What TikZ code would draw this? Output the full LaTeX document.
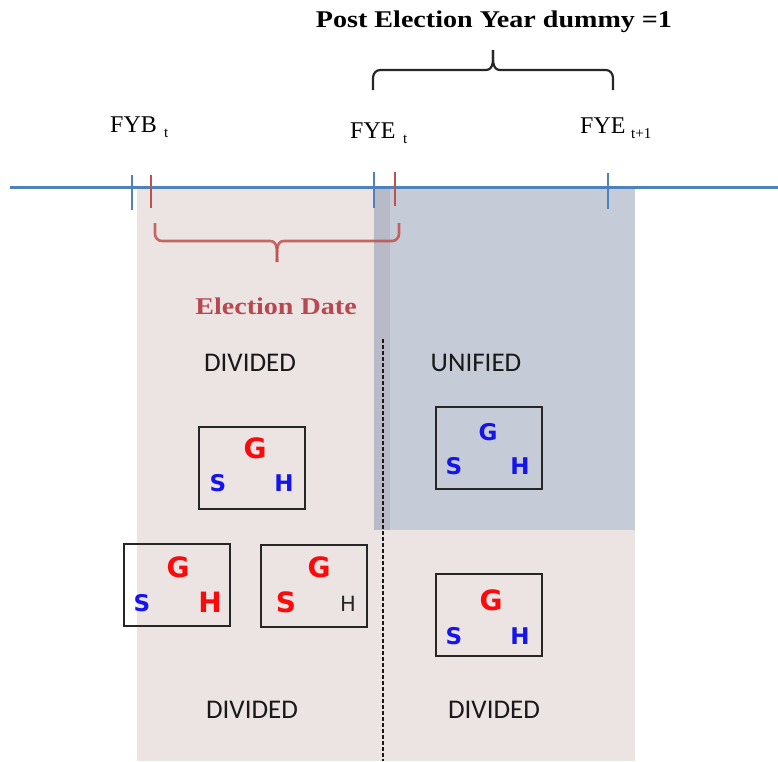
\documentclass[tikz,border=0pt]{standalone}
\usepackage{fontspec}
\setmainfont{Liberation Serif}
\newfontfamily\headfont[FakeStretch=1.17]{Liberation Serif}
\newfontfamily\labfont{Carlito}
\newfontfamily\letfont{DejaVu Sans}
\definecolor{tlblue}{RGB}{79,129,189}
\definecolor{tlred}{RGB}{192,80,77}
\definecolor{edred}{RGB}{184,72,80}
\definecolor{pinkbg}{RGB}{236,228,227}
\definecolor{bluebg}{RGB}{197,204,215}
\definecolor{stripbg}{RGB}{184,187,199}
\definecolor{lblue}{RGB}{20,20,235}
\definecolor{lred}{RGB}{250,10,10}
\tikzset{
  timelabel/.style={inner sep=0pt, anchor=base west, font=\fontsize{24}{24}\selectfont},
  sublabel/.style={inner sep=0pt, anchor=base west, font=\fontsize{15}{15}\selectfont},
  regionlabel/.style={inner sep=0pt, anchor=base, font=\labfont\fontsize{27}{27}\selectfont, text=black!90},
  govbox/.style={draw=black!85, line width=2pt, minimum width=106pt, minimum height=82pt, inner sep=0pt},
  branch/.style={inner sep=0pt, anchor=center, font=\letfont\bfseries\fontsize{23}{23}\selectfont, text=lblue},
  branchbig/.style={inner sep=0pt, anchor=center, font=\letfont\bfseries\fontsize{28}{28}\selectfont, text=lred},
  branchplain/.style={inner sep=0pt, anchor=center, font=\letfont\fontsize{21}{21}\selectfont, text=black!85},
  bluetick/.style={draw=tlblue, line width=2.2pt},
  redtick/.style={draw=tlred, line width=2.6pt},
  bracket/.style={line width=2.2pt},
}
\begin{document}
\begin{tikzpicture}[x=1pt,y=-1pt]
\useasboundingbox (0,0) rectangle (778,761);

% shaded periods
\fill[pinkbg] (137,188) rectangle (390,761);
\fill[pinkbg] (374,530) rectangle (635,761);
\fill[bluebg] (374,188) rectangle (635,530);
\fill[stripbg] (374,188) rectangle (390,530);

% time line and ticks
\coordinate (tlstart) at (10,187);
\coordinate (tlend) at (778,187);
\draw[tlblue, line width=3pt] (tlstart) -- (tlend);
\draw[bluetick] (132,175) -- (132,210);
\draw[redtick] (151,175) -- (151,208);
\draw[bluetick] (374,172) -- (374,208);
\draw[redtick] (395,172) -- (395,206);
\draw[bluetick] (608,173) -- (608,209);

% time labels
\node[timelabel] (fyb) at (110,132) {FYB};
\node[sublabel] (fybsub) at (164,137) {t};
\node[timelabel] (fye) at (350,138) {FYE};
\node[sublabel] (fyesub) at (403,143) {t};
\node[timelabel] (fyenext) at (580,133) {FYE};
\node[sublabel] (fyenextsub) at (631,138) {t+1};

% post election year bracket
\node[inner sep=0pt, anchor=base, font=\headfont\bfseries\fontsize{24}{24}\selectfont] (post) at (494,27) {Post Election Year dummy =1};
\coordinate (pbl) at (373,90);
\coordinate (pbr) at (613,90);
\coordinate (pbm) at (493,50);
\draw[bracket, black!85] (pbl) -- (373,78) to[out=90,in=180] (380,70) -- (486,70)
  to[out=0,in=-90] (pbm);
\draw[bracket, black!85] (pbr) -- (613,78) to[out=90,in=0] (606,70) -- (500,70)
  to[out=180,in=-90] (pbm);

% election date bracket
\coordinate (ebl) at (155,223);
\coordinate (ebr) at (399,223);
\coordinate (ebm) at (277,262);
\draw[bracket, tlred, line width=2.6pt, opacity=0.85] (ebl) -- (155,234) to[out=-90,in=180] (162,241) -- (270,241)
  to[out=0,in=90] (ebm);
\draw[bracket, tlred, line width=2.6pt, opacity=0.85] (ebr) -- (399,234) to[out=-90,in=0] (392,241) -- (284,241)
  to[out=180,in=90] (ebm);
\node[inner sep=0pt, anchor=base, text=edred, font=\headfont\bfseries\fontsize{24}{24}\selectfont] (edate) at (276,314) {Election Date};

% boundary between the two years
\coordinate (dtop) at (383,339);
\coordinate (dbot) at (383,761);
\draw[black!90, line width=2pt, dash pattern=on 4pt off 2pt] (dtop) -- (dbot);

% region labels
\node[regionlabel] (divtl) at (250,371) {DIVIDED};
\node[regionlabel] (unitr) at (476,371) {UNIFIED};
\node[regionlabel] (divbl) at (252,718) {DIVIDED};
\node[regionlabel] (divbr) at (494,718) {DIVIDED};

% government configurations
\node[govbox] (boxa) at (252,468) {};
\node[branchbig] (ga) at (255,448) {G};
\node[branch] (sa) at (218,483) {S};
\node[branch] (ha) at (284,483) {H};

\node[govbox] (boxb) at (177,585) {};
\node[branchbig] (gb) at (178,567) {G};
\node[branch] (sb) at (142,603) {S};
\node[branchbig] (hb) at (210,602) {H};

\node[govbox] (boxc) at (314,586) {};
\node[branchbig] (gc) at (319,567) {G};
\node[branchbig] (sc) at (286,602) {S};
\node[branchplain] (hc) at (348,604) {H};

\node[govbox] (boxd) at (489,448) {};
\node[branch] (gd) at (488,432) {G};
\node[branch] (sd) at (454,466) {S};
\node[branch] (hd) at (520,466) {H};

\node[govbox] (boxe) at (489,615) {};
\node[branchbig] (ge) at (491,600) {G};
\node[branch] (se) at (454,636) {S};
\node[branch] (he) at (520,636) {H};
\end{tikzpicture}
\end{document}
